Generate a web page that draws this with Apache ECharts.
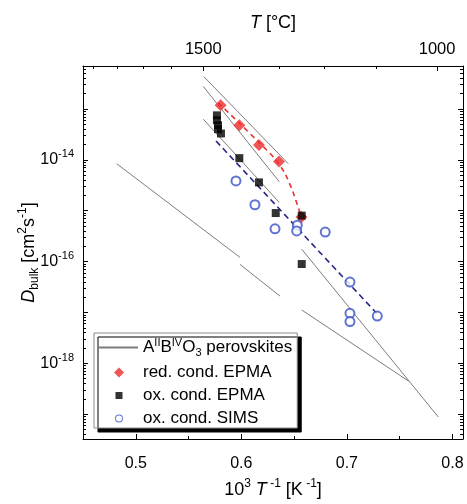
<!DOCTYPE html>
<html><head><meta charset="utf-8">
<script src="https://cdn.jsdelivr.net/npm/echarts@6/dist/echarts.min.js"></script>
<style>html,body{margin:0;padding:0;background:#fff}#c{width:467px;height:504px}</style>
</head><body><div id="c"></div>
<script>
const FONT = '"Liberation Sans", Arial, sans-serif';
const PERO = 'perovskites';
// Axis ranges
const xMin = 0.45, xMax = 0.81;
const yMin = 3.25e-20, yMax = 7.0e-13;

// Gray reference lines for A(II)B(IV)O3 perovskites: [x (1000/T), D]
const line1 = [[0.5646, 4.3e-13], [0.6445, 8.4e-15]];
const line2 = [[0.5640, 2.77e-13], [0.6360, 3.7e-15]];
const line3 = [[0.5640, 6.3e-14], [0.6360, 1.45e-15]];
const line4 = [[0.4819, 8.4e-15], [0.5987, 1.21e-16]];
const line5 = [[0.5987, 8.8e-17], [0.6366, 2.1e-17]];
const line6 = [[0.6572, 1.75e-16], [0.7866, 8.8e-20]];
const line7 = [[0.6572, 1.12e-17], [0.7582, 4.5e-19]];

// Line number labels
const lineLabelText = ['1', '2', '3', '4', '5', '6', '7'];
const lineLabelX = [0.5713, 0.5637, 0.5618, 0.4813, 0.5987, 0.6489, 0.6660];
const lineLabelD = [3.9e-13, 1.53e-13, 3.67e-14, 4.7e-15, 4.9e-17, 1.44e-16, 4.8e-18];

// red. cond. EPMA
const redX = [0.5804, 0.5981, 0.6167, 0.6357, 0.6570];
const redD = [1.19e-13, 4.8e-14, 1.96e-14, 9.3e-15, 7.5e-16];
// ox. cond. EPMA
const blackX = [0.5769, 0.5769, 0.5779, 0.5779, 0.5807, 0.5981, 0.6167, 0.6326, 0.6572, 0.6572];
const blackD = [7.5e-14, 6.0e-14, 4.8e-14, 4.0e-14, 3.3e-14, 1.08e-14, 3.6e-15, 9.0e-16, 8.0e-16, 8.95e-17];
// ox. cond. SIMS
const blueX = [0.5949, 0.6129, 0.6319, 0.6530, 0.6524, 0.6795, 0.7029, 0.7029, 0.7029, 0.7288];
const blueD = [3.85e-15, 1.31e-15, 4.4e-16, 5.2e-16, 4.0e-16, 3.8e-16, 3.95e-17, 9.6e-18, 6.6e-18, 8.5e-18];
// dashed fit lines
const redFitX = [0.5782, 0.5987, 0.6177, 0.6319, 0.6414, 0.6490, 0.6572];
const redFitD = [1.32e-13, 5.13e-14, 2.10e-14, 1.05e-14, 5.37e-15, 2.30e-15, 7.2e-16];
const blueFitX = [0.5760, 0.7285];
const blueFitD = [2.35e-14, 9.5e-18];

// tick values
const bottomMajor = [0.5, 0.6, 0.7, 0.8];
const bottomMinor = [0.55, 0.65, 0.75];
const topTicksC = [1900, 1800, 1700, 1600, 1500, 1400, 1300, 1200, 1100, 1000];
const topLabelsC = [1500, 1000];
const yLabelExp = [-18, -16, -14];
const yDecadeExp = [-19, -18, -17, -16, -15, -14, -13];

const toInvT = c => 1000 / (c + 273.15);
const zip = (xs, ys) => xs.map((x, i) => [x, ys[i]]);

const yMajor = yDecadeExp.map(e => Math.pow(10, e));
const yMinor = [];
for (let e = -20; e <= -13; e++) for (let k = 2; k <= 9; k++) {
  const v = k * Math.pow(10, e);
  if (v > yMin && v < yMax) yMinor.push(v);
}
const topMajorV = topLabelsC.map(toInvT);
const topMinorV = topTicksC.filter(c => topLabelsC.indexOf(c) < 0).map(toInvT);

const txt = {color: '#000', fontFamily: FONT};
function mkRich(fs, fsSmall, lh) {
  return {
    n: {...txt, fontSize: fs, verticalAlign: 'middle', lineHeight: lh},
    i: {...txt, fontSize: fs, fontStyle: 'italic', verticalAlign: 'middle', lineHeight: lh},
    sup: {...txt, fontSize: fsSmall, verticalAlign: 'top', lineHeight: fsSmall},
    sub: {...txt, fontSize: fsSmall, verticalAlign: 'bottom', lineHeight: fsSmall}
  };
}
const titleRich = mkRich(18, 12, 24);
const legRich = mkRich(17, 11, 21);
const axLine = {show: true, onZero: false, lineStyle: {color: '#000', width: 1}};

function xA(pos, extra) {
  return Object.assign({type: 'value', min: xMin, max: xMax, position: pos, splitLine: {show: false}, axisLine: axLine, nameMoveOverlap: false}, extra);
}
function yA(pos, extra) {
  return Object.assign({type: 'log', logBase: 10, min: yMin, max: yMax, position: pos, splitLine: {show: false}, axisLine: axLine, nameMoveOverlap: false}, extra);
}

const series = [];
[line1, line2, line3, line4, line5, line6, line7].forEach(l => {
  series.push({type: 'line', name: PERO, data: l, symbol: 'none', silent: true, z: 1,
    itemStyle: {color: 'rgba(0,0,0,0)'},
    lineStyle: {color: '#7d7d7d', width: 1}});
});
series.push({type: 'line', name: 'redfit', data: zip(redFitX, redFitD), symbol: 'none', smooth: 0.3, z: 2,
  lineStyle: {color: '#ee3030', width: 1.6, type: [5, 4]}});
series.push({type: 'line', name: 'bluefit', data: zip(blueFitX, blueFitD), symbol: 'none', z: 2,
  lineStyle: {color: '#25258a', width: 1.6, type: [6, 4]}});
series.push({type: 'scatter', name: 'red. cond. EPMA', data: zip(redX, redD), symbol: 'diamond', symbolSize: 12, z: 3,
  itemStyle: {color: '#ee2a2a'}});
series.push({type: 'scatter', name: 'ox. cond. EPMA', data: zip(blackX, blackD), symbol: 'rect', symbolSize: 8, z: 4,
  itemStyle: {color: '#000'}});
series.push({type: 'scatter', name: 'ox. cond. SIMS', data: zip(blueX, blueD), symbol: 'emptyCircle', symbolSize: 9, z: 5,
  itemStyle: {color: '#3a50c8', borderWidth: 1}});
series.push({type: 'scatter', name: 'labels', symbolSize: 1, itemStyle: {opacity: 0}, silent: true, z: 6,
  data: lineLabelText.map((t, i) => ({name: t, value: [lineLabelX[i], lineLabelD[i]]})),
  label: {show: true, position: 'inside', formatter: '{b}', color: '#000', fontSize: 13, fontFamily: FONT}});

// legend icons: invisible corner moves keep the 40x10 box so the mark keeps its own size
const BOX = 'M0,0M40,0M40,10M0,10';
const diamondIcon = 'path://' + BOX + 'M21,0L26,5L21,10L16,5Z';
const squareIcon = 'path://' + BOX + 'M17.5,1.5L24.5,1.5L24.5,8.5L17.5,8.5Z';
const ringIcon = 'path://' + BOX + 'M25,5A4,4 0 1,0 17,5A4,4 0 1,0 25,5ZM24,5A3,3 0 1,1 18,5A3,3 0 1,1 24,5Z';

const option = {
  animation: false,
  backgroundColor: '#fff',
  grid: {left: 83, right: 4, top: 66, bottom: 60, containLabel: false},
  xAxis: [
    xA('bottom', {
      axisTick: {inside: true, length: 5, customValues: bottomMajor, lineStyle: {color: '#000'}},
      axisLabel: {customValues: bottomMajor, formatter: v => v.toFixed(1), fontSize: 16, margin: 17, ...txt},
      name: '{n|10}{sup|3}{n| }{i|T}{sup| -1}{n| [K}{sup| -1}{n|]}', nameLocation: 'middle', nameGap: 39,
      nameTextStyle: {rich: titleRich}
    }),
    xA('bottom', {axisLine: {show: false}, axisTick: {inside: true, length: 3, customValues: bottomMinor, lineStyle: {color: '#000'}}, axisLabel: {show: false}}),
    xA('top', {
      axisTick: {inside: true, length: 5, customValues: topMajorV, lineStyle: {color: '#000'}},
      axisLabel: {customValues: topMajorV, formatter: v => String(Math.round(1000 / v - 273.15)), fontSize: 16.5, margin: 8, ...txt},
      name: '{i|T}{n| [°C]}', nameLocation: 'middle', nameGap: 31, nameTextStyle: {rich: titleRich}
    }),
    xA('top', {axisLine: {show: false}, axisTick: {inside: true, length: 3, customValues: topMinorV, lineStyle: {color: '#000'}}, axisLabel: {show: false}})
  ],
  yAxis: [
    yA('left', {
      axisTick: {inside: true, length: 5, customValues: yMajor, lineStyle: {color: '#000'}},
      axisLabel: {customValues: yLabelExp.map(e => Math.pow(10, e)), margin: 9,
        formatter: v => '{b|10}{e|' + Math.round(Math.log10(v)) + '}',
        rich: {b: {...txt, fontSize: 16, verticalAlign: 'middle', lineHeight: 22}, e: {...txt, fontSize: 11, verticalAlign: 'top', lineHeight: 11}}},
      name: '{i|D}{sub|bulk}{n| [cm}{sup|2}{n|s}{sup|-1}{n|]}', nameLocation: 'middle', nameGap: 42,
      nameTextStyle: {rich: titleRich}
    }),
    yA('left', {axisLine: {show: false}, axisTick: {inside: true, length: 3, customValues: yMinor, lineStyle: {color: '#000'}}, axisLabel: {show: false}}),
    yA('right', {axisTick: {inside: true, length: 5, customValues: yMajor, lineStyle: {color: '#000'}}, axisLabel: {show: false}}),
    yA('right', {axisLine: {show: false}, axisTick: {inside: true, length: 3, customValues: yMinor, lineStyle: {color: '#000'}}, axisLabel: {show: false}})
  ],
  legend: {
    data: [
      {name: PERO, itemStyle: {color: 'rgba(0,0,0,0)', opacity: 0, borderWidth: 0}},
      {name: 'red. cond. EPMA', icon: diamondIcon},
      {name: 'ox. cond. EPMA', icon: squareIcon},
      {name: 'ox. cond. SIMS', icon: ringIcon, itemStyle: {color: '#3a50c8', borderWidth: 0}}
    ],
    orient: 'vertical', left: 94, top: 333,
    itemWidth: 40, itemHeight: 10, itemGap: 6,
    padding: [4, 5, 1, 3],
    backgroundColor: '#fff', borderColor: '#8a8a8a', borderWidth: 1,
    shadowColor: '#000', shadowOffsetX: 4, shadowOffsetY: 4, shadowBlur: 0,
    selectedMode: false,
    formatter: name => name === PERO ? '{n|A}{sup|II}{n|B}{sup|IV}{n|O}{sub|3}{n| perovskites}' : name,
    textStyle: {fontSize: 17, ...txt, rich: legRich}
  },
  series: series
};
const chart = echarts.init(document.getElementById('c'), null, {renderer: 'canvas'});
chart.setOption(option);
</script></body></html>
